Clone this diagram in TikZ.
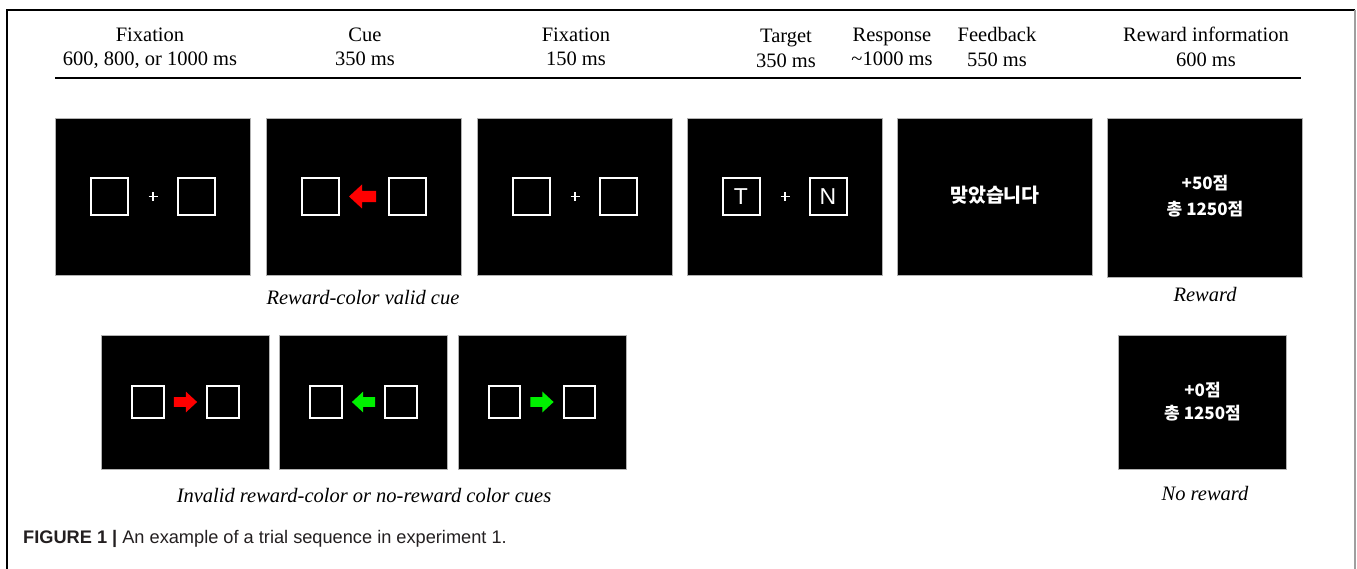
\documentclass[tikz,border=0pt]{standalone}
\usepackage{fontspec}
\setmainfont{Liberation Serif}
\newfontfamily\capfont{Liberation Sans}
\newfontfamily\krfont{Noto Sans CJK KR}
\definecolor{cuegreen}{RGB}{0,240,0}
\definecolor{cuered}{RGB}{255,0,0}
\definecolor{captext}{RGB}{35,31,32}
\tikzset{
  hdr/.style={align=center, font=\fontsize{20.5}{24.5}\selectfont, inner sep=0pt},
  lbl/.style={font=\fontsize{20.5}{24.5}\selectfont\itshape, inner sep=0pt},
  scrA/.style={fill=black, draw=gray!60, line width=0.6pt, minimum width=195pt, minimum height=157pt, inner sep=0pt},
  scrB/.style={scrA, minimum width=168pt, minimum height=134pt},
  sqA/.style={draw=white, line width=2pt, minimum size=37pt, inner sep=0pt, text=white, font=\capfont\fontsize{23}{23}\selectfont},
  sqB/.style={sqA, minimum size=31.5pt},
  plusline/.style={draw=white, line width=1.8pt},
  krbold/.style={text=white, align=center, inner sep=0pt, font=\krfont\bfseries\fontsize{17}{26}\selectfont},
  krbolds/.style={krbold, font=\krfont\bfseries\fontsize{17}{23}\selectfont},
  krreg/.style={text=white, inner sep=0pt, font=\krfont\bfseries\fontsize{19.5}{19.5}\selectfont},
  cuearrow/.pic={\fill (-13.5,0) -- (-0.5,12) -- (-0.5,5.7) -- (13.5,5.7) -- (13.5,-5.7) -- (-0.5,-5.7) -- (-0.5,-12) -- cycle;},
  frameline/.style={line width=1.3pt}
}
\begin{document}
\begin{tikzpicture}[x=1pt,y=-1pt]
\useasboundingbox (0,0) rectangle (1357,569);
% frame
\coordinate (fbl) at (7,569);
\coordinate (ftl) at (7,10);
\coordinate (ftr) at (1355,10);
\coordinate (fbr) at (1355,569);
\draw[frameline, black] (fbl) -- (ftl) -- (ftr);
\draw[line width=2pt, gray!75] (ftr) -- (fbr);

% header
\node[hdr] (h1) at (150,48.5) {Fixation\\600, 800, or 1000 ms};
\node[hdr] (h2) at (365,47) {Cue\\350 ms};
\node[hdr] (h3) at (576,47) {Fixation\\150 ms};
\node[hdr] (h4) at (786,48.5) {Target\\350 ms};
\node[hdr] (h5) at (892,47) {Response\\\textasciitilde1000 ms};
\node[hdr] (h6) at (997,47) {Feedback\\550 ms};
\node[hdr] (h7) at (1206,47) {Reward information\\600 ms};
\coordinate (rl) at (55,78);
\coordinate (rr) at (1301,78);
\draw[line width=1.3pt] (rl) -- (rr);

% row 1 screens
\node[scrA] (s1) at (153,196.5) {};
\node[scrA] (s2) at (363.5,196.5) {};
\node[scrA] (s3) at (575,196.5) {};
\node[scrA] (s4) at (785,196.5) {};
\node[scrA] (s5) at (995,196.5) {};
\node[scrA, minimum height=159pt] (s6) at (1205,197.5) {};

% screen 1
\node[sqA] (s1l) at ([xshift=-43.5pt]s1.center) {};
\node[sqA] (s1r) at ([xshift=43.5pt]s1.center) {};
\draw[plusline] ([xshift=-4.5pt]s1.center) -- ([xshift=4.5pt]s1.center);
\draw[plusline] ([yshift=-4.5pt]s1.center) -- ([yshift=4.5pt]s1.center);
% screen 2
\node[sqA] (s2l) at ([xshift=-43.5pt]s2.center) {};
\node[sqA] (s2r) at ([xshift=43.5pt]s2.center) {};
\pic[cuered] at ([xshift=-1pt]s2.center) {cuearrow};
% screen 3
\node[sqA] (s3l) at ([xshift=-43.5pt]s3.center) {};
\node[sqA] (s3r) at ([xshift=43.5pt]s3.center) {};
\draw[plusline] ([xshift=-4.5pt]s3.center) -- ([xshift=4.5pt]s3.center);
\draw[plusline] ([yshift=-4.5pt]s3.center) -- ([yshift=4.5pt]s3.center);
% screen 4
\node[sqA] (s4l) at ([xshift=-44pt]s4.center) {T};
\node[sqA] (s4r) at ([xshift=43pt]s4.center) {N};
\draw[plusline] ([xshift=-4.5pt]s4.center) -- ([xshift=4.5pt]s4.center);
\draw[plusline] ([yshift=-4.5pt]s4.center) -- ([yshift=4.5pt]s4.center);
% screen 5
\node[krreg] (fb) at ([yshift=1pt]s5.center) {맞았습니다};
% screen 6
\node[krbold] (rw) at ([yshift=1.5pt]s6.center) {+50점\\총 1250점};

\node[lbl] (l1) at (363,298) {Reward-color valid cue};
\node[lbl] (l2) at (1205,294) {Reward};

% row 2 screens
\node[scrB] (r1) at (185.5,402) {};
\node[scrB] (r2) at (363.5,402) {};
\node[scrB] (r3) at (542,402) {};
\node[scrB] (r4) at (1202.5,402) {};

\node[sqB] (r1l) at ([xshift=-37.5pt]r1.center) {};
\node[sqB] (r1r) at ([xshift=37.5pt]r1.center) {};
\pic[cuered, xscale=-0.86, yscale=0.86] at (r1.center) {cuearrow};
\node[sqB] (r2l) at ([xshift=-37.5pt]r2.center) {};
\node[sqB] (r2r) at ([xshift=37.5pt]r2.center) {};
\pic[cuegreen, scale=0.86] at (r2.center) {cuearrow};
\node[sqB] (r3l) at ([xshift=-37.5pt]r3.center) {};
\node[sqB] (r3r) at ([xshift=37.5pt]r3.center) {};
\pic[cuegreen, xscale=-0.86, yscale=0.86] at (r3.center) {cuearrow};

\node[krbolds] (nr) at ([yshift=0.5pt]r4.center) {+0점\\총 1250점};

\node[lbl] (l3) at (364,496) {Invalid reward-color or no-reward color cues};
\node[lbl] (l4) at (1205,493) {No reward};

% caption
\node[anchor=west, inner sep=0pt, text=captext, font=\capfont\fontsize{18.2}{18.2}\selectfont] (cap) at (23,539) {\textbf{FIGURE 1 |} An example of a trial sequence in experiment 1.};
\end{tikzpicture}
\end{document}
